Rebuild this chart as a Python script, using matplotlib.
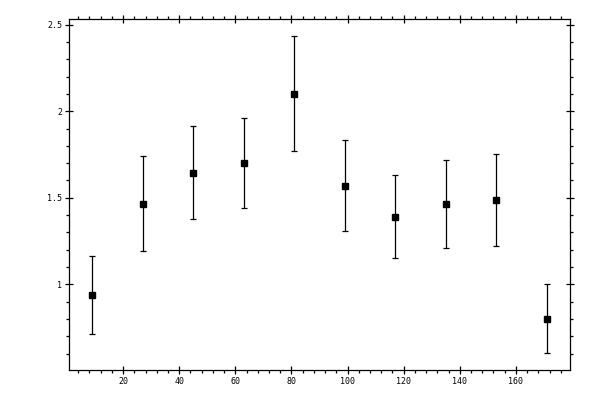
import matplotlib
matplotlib.use("Agg")
import matplotlib.pyplot as plt
from matplotlib.ticker import MultipleLocator

x_vals = [9, 27, 45, 63, 81, 99, 117, 135, 153, 171]
y_vals = [0.94, 1.466, 1.646, 1.703, 2.102, 1.571, 1.391, 1.466, 1.489, 0.802]
y_errs = [0.225, 0.273, 0.266, 0.26, 0.332, 0.265, 0.24, 0.255, 0.266, 0.2]

x_ticks = [20, 40, 60, 80, 100, 120, 140, 160]
y_ticks = [1, 1.5, 2, 2.5]
y_tick_labels = ["1", "1.5", "2", "2.5"]


def main():
    plt.rcParams["font.family"] = ["DejaVu Sans Mono"]
    fig = plt.figure(figsize=(6, 4), dpi=100)
    ax = fig.add_axes([0.115, 0.075, 0.835, 0.8775])

    ax.errorbar(x_vals, y_vals, yerr=y_errs, fmt="s", color="black",
                markersize=5, elinewidth=0.9, capsize=2, capthick=0.9)

    ax.set_xlim(0.7, 179.3)
    ax.set_ylim(0.505, 2.533)
    ax.set_xticks(x_ticks)
    ax.set_yticks(y_ticks)
    ax.set_yticklabels(y_tick_labels)
    ax.xaxis.set_minor_locator(MultipleLocator(4))
    ax.yaxis.set_minor_locator(MultipleLocator(0.1))

    ax.tick_params(which="both", top=True, right=True, width=0.9, labelsize=6)
    ax.tick_params(which="major", direction="inout", length=6, pad=2)
    ax.tick_params(which="minor", direction="out", length=2.5)
    for sp in ax.spines.values():
        sp.set_linewidth(0.9)

    fig.savefig("out.png", dpi=100)


if __name__ == "__main__":
    main()
